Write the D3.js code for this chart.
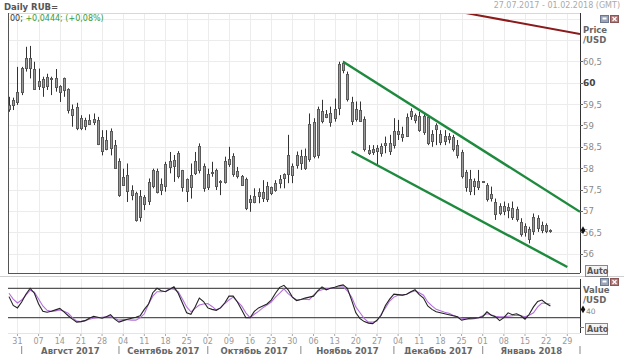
<!DOCTYPE html>
<html>
<head>
<meta charset="utf-8">
<script src="https://cdn.jsdelivr.net/npm/d3@7"></script>
<style>
  body { margin: 0; background: #fff; }
  text { font-family: "DejaVu Sans", Verdana, sans-serif; }
</style>
</head>
<body>
<div id="chart"></div>
<script>
let w = 624;
let h = 354;

// ---- data ----
const startDay = new Date(2017, 6, 27);
const endDay = new Date(2018, 1, 1);

const opens = [59.40,59.48,59.55,59.78,60.34,60.57,60.33,59.92,60.08,59.92,60.12,60.12,59.93,59.82,59.85,59.38,59.42,58.94,59.12,59.03,
  59.14,59.12,58.72,58.43,58.47,58.54,58.18,57.62,57.83,57.50,57.42,56.87,57.32,57.22,57.58,57.94,57.47,57.58,58.05,58.20,
  58.36,57.95,57.74,57.55,57.90,57.95,58.06,57.56,57.90,57.95,57.68,57.70,58.10,58.28,57.94,57.82,57.75,57.22,57.23,57.35,
  57.44,57.27,57.55,57.50,57.65,57.77,57.86,58.05,58.06,58.28,58.00,58.22,59.07,58.30,59.34,59.21,59.30,59.18,59.42,60.46,
  60.20,59.55,59.14,59.37,59.15,58.42,58.38,58.48,58.37,58.55,58.60,58.55,58.86,58.80,58.75,59.22,59.24,59.23,58.85,59.20,
  58.64,58.90,58.80,58.64,58.76,58.72,58.55,58.38,57.90,57.47,57.70,57.55,57.67,57.60,57.30,57.20,56.96,57.12,57.02,57.08,
  57.04,56.74,56.50,56.58,56.52,56.84,56.55,56.66,56.52];
const highs = [59.67,59.65,60.37,60.37,60.84,60.86,60.49,60.33,60.14,60.21,60.14,60.32,59.94,60.12,59.87,59.49,59.53,59.24,59.18,59.26,
  59.28,59.20,58.89,58.89,58.93,58.66,58.23,57.99,58.11,57.60,57.45,57.49,57.37,57.76,57.99,57.99,57.76,58.15,58.38,58.31,
  58.40,57.96,57.76,58.11,58.38,58.58,58.11,57.99,58.15,57.99,57.72,58.27,58.50,58.35,58.03,57.84,57.78,57.37,57.53,57.53,
  57.72,57.68,57.57,57.72,57.84,57.88,58.78,58.11,58.39,58.43,58.46,59.28,59.17,59.44,59.60,59.36,59.44,59.63,60.49,60.51,
  60.26,59.67,59.56,59.56,59.21,58.54,58.54,58.54,58.58,58.74,58.78,59.17,59.13,58.97,59.28,59.40,59.28,59.32,59.28,59.24,
  58.89,59.05,58.89,58.89,58.82,58.78,58.66,58.43,57.96,57.96,57.76,57.96,57.70,57.65,57.57,57.29,57.18,57.22,57.18,57.22,
  57.10,56.83,56.71,56.63,56.94,56.90,56.75,56.71,56.57];
const lows = [59.32,59.36,59.48,59.71,60.26,60.10,59.83,59.83,59.67,59.83,59.71,59.79,59.55,59.67,59.28,58.97,58.89,58.89,58.89,59.01,
  59.01,58.54,58.30,58.42,58.30,57.99,57.33,57.60,57.21,57.25,56.75,56.75,57.02,57.14,57.53,57.41,57.37,57.45,57.88,57.68,
  57.76,57.45,57.21,57.29,57.84,57.88,57.45,57.49,57.80,57.49,57.37,57.64,58.03,57.80,57.76,57.60,57.02,56.98,57.18,57.18,
  57.21,57.21,57.37,57.45,57.53,57.53,57.65,57.65,57.99,57.96,57.96,58.15,58.23,58.23,59.05,59.17,58.97,59.09,59.24,60.22,
  59.56,59.01,59.09,59.09,58.39,58.31,58.31,58.07,58.27,58.35,58.31,58.46,58.66,58.62,58.74,59.13,59.05,58.85,58.78,58.54,
  58.50,58.54,58.54,58.54,58.58,58.39,58.23,57.76,57.45,57.37,57.37,57.49,57.66,57.22,57.22,56.79,56.90,56.90,56.83,56.79,
  56.75,56.40,56.40,56.24,56.44,56.51,56.48,56.48,56.49];
const closes = [59.49,59.59,59.79,60.35,60.57,60.33,59.87,60.03,59.90,60.13,60.09,59.92,59.80,60.10,59.37,59.24,58.92,59.18,58.98,59.12,
  59.06,58.57,58.39,58.65,58.86,58.00,57.38,57.80,57.46,57.38,56.80,57.36,57.15,57.67,57.96,57.46,57.62,58.10,58.18,58.05,
  57.82,57.55,57.46,57.83,58.18,58.52,57.55,57.86,57.92,57.57,57.71,58.18,58.22,57.86,57.82,57.62,57.07,57.28,57.36,57.44,
  57.30,57.58,57.42,57.66,57.75,57.86,58.30,57.83,58.30,58.12,58.29,59.04,58.28,59.38,59.10,59.27,59.10,59.39,60.44,60.30,
  59.62,59.10,59.38,59.12,58.45,58.36,58.46,58.42,58.53,58.60,58.42,58.88,58.79,58.72,59.20,59.34,59.12,58.90,59.22,58.60,
  58.80,59.00,58.62,58.76,58.70,58.45,58.32,57.82,57.55,57.74,57.58,57.70,57.69,57.28,57.40,56.92,57.12,57.00,57.10,56.86,
  56.80,56.46,56.65,56.34,56.85,56.60,56.66,56.53,56.55];

// stochastic oscillator, %K (black) and %D (violet)
const stochK = [63,45,40,52,68,80,70,48,33,31,33,36,39,32,24,17,11,12,14,19,
  23,21,19,22,26,17,11,14,17,19,21,24,37,48,71,80,75,73,78,83,
  70,50,30,27,42,60,53,40,37,35,40,50,64,64,52,36,20,20,33,40,
  44,48,56,70,82,86,77,62,55,57,60,62,64,75,83,77,80,82,85,87,
  80,56,30,18,12,9,8,15,25,45,58,68,67,66,68,73,77,67,60,44,
  37,32,30,28,26,24,22,15,17,19,19,20,22,32,25,22,14,20,30,26,
  28,24,17,27,42,53,56,49,44];
const stochD = [70,58,50,56,66,76,72,58,44,35,33,34,36,33,29,20,13,12,14,17,
  19,20,21,22,22,19,15,16,16,15,15,20,28,48,64,73,73,74,79,78,
  73,58,42,32,39,46,48,49,43,36,40,49,56,62,53,44,30,20,27,33,
  40,46,52,62,70,79,69,62,56,57,58,57,66,74,77,79,80,81,82,83,
  75,62,42,30,18,11,11,13,27,40,54,62,66,66,68,72,75,71,66,52,
  44,37,34,31,29,25,22,19,18,17,18,20,24,28,26,23,22,22,23,24,
  25,24,22,25,30,42,50,49,48];

const priceTicks = [56, 56.5, 57, 57.5, 58, 58.5, 59, 59.5, 60, 60.5];
const monthNames = ["Август 2017", "Сентябрь 2017", "Октябрь 2017", "Ноябрь 2017", "Декабрь 2017", "Январь 2018"];
const oscLevels = [80, 20];
const oscLabel = 40;

// drawn trend lines: [date, price]
const channelTop = [[new Date(2017, 10, 15), 60.49], [new Date(2018, 1, 1), 56.98]];
const channelBottom = [[new Date(2017, 10, 17), 58.39], [new Date(2018, 0, 29), 55.69]];
const redLine = [[new Date(2017, 11, 26), 61.63], [new Date(2018, 1, 1), 61.14]];

const title = "Daily RUB=";
const rangeText = "27.07.2017 - 01.02.2018 (GMT)";
const lastText = "00;";
const changeText = " +0,0444; (+0,08%)";

// ---- helpers ----
function nextWeekday(d) {
  let t = new Date(d);
  while (t.getDay() === 0 || t.getDay() === 6) t = d3.timeDay.offset(t, 1);
  return t;
}
function bizIndex(d) {
  let t = nextWeekday(d);
  let days = d3.timeDay.range(startDay, t);
  return days.filter(x => x.getDay() !== 0 && x.getDay() !== 6).length;
}

let left = 9, right = 580;
let x = d3.scaleLinear().domain([0, bizIndex(endDay)]).range([left, right]);
let y = d3.scaleLinear().domain([56, 60]).range([253.7, 82.7]);
let yo = d3.scaleLinear().domain([20, 80]).range([317.7, 288.3]);

let mainTop = 14, mainBottom = 273;
let oscTop = 279, oscBottom = 333;

let svg = d3.select("#chart").append("svg")
  .attr("width", w).attr("height", h)
  .attr("viewBox", "0 0 " + w + " " + h);

svg.append("rect").attr("width", w).attr("height", h).attr("fill", "#fff");

let defs = svg.append("defs");
defs.append("clipPath").attr("id", "clipMain")
  .append("rect").attr("x", 8).attr("y", mainTop).attr("width", right - 8).attr("height", mainBottom - mainTop);
defs.append("clipPath").attr("id", "clipOsc")
  .append("rect").attr("x", 8).attr("y", oscTop).attr("width", right - 8).attr("height", oscBottom - oscTop);

// mondays / months
let mondays = d3.timeMonday.range(startDay, endDay);
let months = d3.timeMonth.range(new Date(2017, 7, 1), new Date(2018, 1, 2));

// ---- gridlines ----
let grid = svg.append("g").attr("stroke", "#ececec").attr("stroke-width", 1);
mondays.forEach(d => {
  let gx = Math.round(x(bizIndex(d))) + 0.5;
  grid.append("line").attr("x1", gx).attr("x2", gx).attr("y1", mainTop).attr("y2", mainBottom);
  grid.append("line").attr("x1", gx).attr("x2", gx).attr("y1", oscTop).attr("y2", oscBottom);
});
d3.range(55.5, 62, 0.5).forEach(p => {
  let gy = Math.round(y(p)) + 0.5;
  if (gy > mainTop && gy < mainBottom)
    grid.append("line").attr("x1", 8).attr("x2", right).attr("y1", gy).attr("y2", gy);
});

// ---- frame ----
let frame = svg.append("g").attr("fill", "none");
frame.append("line").attr("x1", 8).attr("x2", right).attr("y1", 13.5).attr("y2", 13.5).attr("stroke", "#d8d8d8");
frame.append("line").attr("x1", 8.5).attr("x2", 8.5).attr("y1", 13).attr("y2", mainBottom).attr("stroke", "#555");
frame.append("line").attr("x1", right + 0.5).attr("x2", right + 0.5).attr("y1", 13).attr("y2", mainBottom).attr("stroke", "#333");
frame.append("line").attr("x1", 8).attr("x2", right).attr("y1", mainBottom + 0.5).attr("y2", mainBottom + 0.5).attr("stroke", "#555");
frame.append("line").attr("x1", 0).attr("x2", w).attr("y1", 276.5).attr("y2", 276.5).attr("stroke", "#cfcfcf");
frame.append("line").attr("x1", right + 0.5).attr("x2", right + 0.5).attr("y1", oscTop).attr("y2", oscBottom).attr("stroke", "#333");
frame.append("line").attr("x1", 8).attr("x2", right).attr("y1", oscBottom + 0.5).attr("y2", oscBottom + 0.5).attr("stroke", "#e4e4e4");

// ---- candles ----
let candles = svg.append("g").attr("clip-path", "url(#clipMain)");
opens.forEach((o, i) => {
  let cx = Math.round(x(i)) + 0.5;
  candles.append("line")
    .attr("x1", cx).attr("x2", cx)
    .attr("y1", y(highs[i])).attr("y2", y(lows[i]))
    .attr("stroke", "#333").attr("stroke-width", 1);
  let top = Math.round(y(Math.max(o, closes[i]))) + 0.5;
  let bh = Math.max(1, Math.round(Math.abs(y(o) - y(closes[i]))));
  candles.append("rect")
    .attr("x", cx - 1).attr("y", top)
    .attr("width", 2).attr("height", bh)
    .attr("fill", "#9a9a9a").attr("stroke", "#5a5a5a").attr("stroke-width", 1);
});

// ---- trend lines ----
let lineGen = d3.line().x(d => x(bizIndex(d[0]))).y(d => y(d[1]));
let trends = svg.append("g").attr("clip-path", "url(#clipMain)").attr("fill", "none");
trends.append("path").attr("d", lineGen(channelTop)).attr("stroke", "#1e8a3e").attr("stroke-width", 2.4);
trends.append("path").attr("d", lineGen(channelBottom)).attr("stroke", "#1e8a3e").attr("stroke-width", 2.4);
trends.append("path").attr("d", lineGen(redLine)).attr("stroke", "#8b1a1a").attr("stroke-width", 2);

// ---- price axis ----
let axisG = svg.append("g");
priceTicks.forEach(p => {
  axisG.append("line").attr("x1", right).attr("x2", right + 3)
    .attr("y1", Math.round(y(p)) + 0.5).attr("y2", Math.round(y(p)) + 0.5).attr("stroke", "#666");
  axisG.append("text").attr("x", right + 3).attr("y", y(p) + 3.5)
    .attr("font-size", p === 60 ? 9 : 8.5)
    .attr("font-weight", p === 60 ? "bold" : "normal")
    .attr("fill", p === 60 ? "#444" : "#888")
    .text(d3.format(",")(p).replace(".", ","));
});
axisG.append("text").attr("x", 583).attr("y", 33).attr("font-size", 8.5).attr("font-weight", "bold").attr("fill", "#666").text("Price");
axisG.append("text").attr("x", 583).attr("y", 43).attr("font-size", 8.5).attr("font-weight", "bold").attr("fill", "#666").text("/USD");

// last price marker
let lastY = y(closes[closes.length - 1]);
axisG.append("path").attr("d", d3.symbol(d3.symbolDiamond, 18)()).attr("transform", "translate(" + (right + 3) + "," + lastY + ")").attr("fill", "#111");

// Auto box
function autoBox(yy) {
  let g = svg.append("g");
  g.append("rect").attr("x", 585.5).attr("y", yy - 8.5).attr("width", 22).attr("height", 11).attr("fill", "#f4f4f4").attr("stroke", "#888");
  g.append("text").attr("x", 587).attr("y", yy).attr("font-size", 8).attr("font-weight", "bold").attr("fill", "#555").text("Auto");
}
autoBox(274);
autoBox(332);
svg.append("line").attr("x1", right).attr("x2", right + 4).attr("y1", 327.5).attr("y2", 327.5).attr("stroke", "#777");

// window icons
function icons(yy) {
  let g = svg.append("g");
  g.append("rect").attr("x", 600.5).attr("y", yy + 0.5).attr("width", 8).attr("height", 7).attr("fill", "#9aa5b8").attr("stroke", "#6d7890");
  g.append("rect").attr("x", 602.5).attr("y", yy + 2.5).attr("width", 4).attr("height", 2).attr("fill", "#fff");
  g.append("rect").attr("x", 610.5).attr("y", yy + 0.5).attr("width", 8).attr("height", 7).attr("fill", "#b07a7a").attr("stroke", "#8a5555");
  g.append("path").attr("d", "M612.5," + (yy + 2) + "L616.5," + (yy + 6) + "M616.5," + (yy + 2) + "L612.5," + (yy + 6)).attr("stroke", "#fff").attr("stroke-width", 1.2);
}
icons(15);
icons(278);

// ---- header ----
svg.append("text").attr("x", 4).attr("y", 10).attr("font-size", 8.5).attr("font-weight", "bold").attr("fill", "#555").text(title);
svg.append("text").attr("x", 620).attr("y", 8).attr("text-anchor", "end").attr("font-size", 8).attr("fill", "#aaa").text(rangeText);
let legend = svg.append("text").attr("x", 10).attr("y", 21).attr("font-size", 8);
legend.append("tspan").attr("fill", "#333").text(lastText);
legend.append("tspan").attr("fill", "#3a9a3a").text(changeText);

// ---- oscillator ----
let osc = svg.append("g").attr("clip-path", "url(#clipOsc)");
oscLevels.forEach(v => {
  osc.append("line").attr("x1", 8).attr("x2", right).attr("y1", yo(v)).attr("y2", yo(v)).attr("stroke", "#555").attr("stroke-width", 1.2);
});
let oscLine = d3.line().x((d, i) => x(i)).y(d => yo(d));
osc.append("path").attr("d", oscLine(stochD)).attr("fill", "none").attr("stroke", "#b36fdc").attr("stroke-width", 1.1);
osc.append("path").attr("d", oscLine(stochK)).attr("fill", "none").attr("stroke", "#222").attr("stroke-width", 1.1);

svg.append("text").attr("x", 583).attr("y", 293).attr("font-size", 8.5).attr("font-weight", "bold").attr("fill", "#666").text("Value");
svg.append("text").attr("x", 583).attr("y", 303).attr("font-size", 8.5).attr("font-weight", "bold").attr("fill", "#666").text("/USD");
svg.append("path").attr("d", d3.symbol(d3.symbolDiamond, 18)()).attr("transform", "translate(" + (right + 3) + "," + (yo(oscLabel) + 1.5) + ")").attr("fill", "#111");
svg.append("text").attr("x", 586).attr("y", yo(oscLabel) + 6.5).attr("font-size", 7.5).attr("fill", "#888").text(oscLabel);

// ---- date axis ----
let dateAxis = svg.append("g");
mondays.forEach(d => {
  let tx = x(bizIndex(d));
  dateAxis.append("line").attr("x1", tx).attr("x2", tx).attr("y1", 334).attr("y2", 336).attr("stroke", "#aaa");
  dateAxis.append("text").attr("x", tx).attr("y", 344).attr("text-anchor", "middle")
    .attr("font-size", 8).attr("fill", "#999").text(d3.timeFormat("%d")(d));
});
for (let k = 0; k < months.length; k++) {
  let bx = x(bizIndex(months[k]));
  dateAxis.append("line").attr("x1", bx).attr("x2", bx).attr("y1", 346).attr("y2", 354).attr("stroke", "#888");
  if (k < monthNames.length) {
    let nx = x(bizIndex(months[k + 1]));
    dateAxis.append("text").attr("x", (bx + nx) / 2).attr("y", 353.5).attr("text-anchor", "middle")
      .attr("font-size", 8.5).attr("font-weight", "bold").attr("fill", "#666").text(monthNames[k]);
  }
}
</script>
</body>
</html>
